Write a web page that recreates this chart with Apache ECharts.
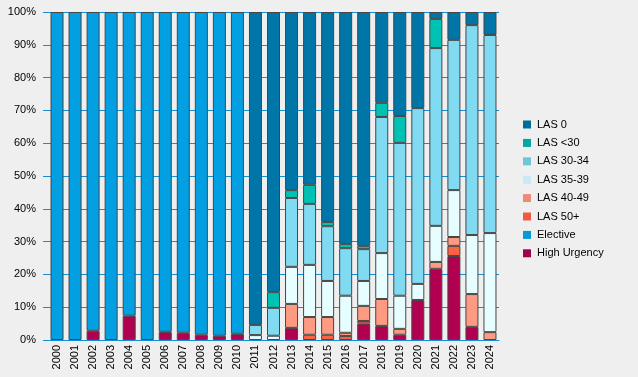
<!DOCTYPE html>
<html>
<head>
<meta charset="utf-8">
<script src="https://cdn.jsdelivr.net/npm/echarts@6/dist/echarts.min.js"></script>
<style>
  html, body { margin: 0; padding: 0; background: #efefef; }
  #mainChart { width: 638px; height: 377px; }
</style>
</head>
<body>
<div id="mainChart"></div>
<script>
// years and shares (%) per category, bottom of stack first
var years = ['2000', '2001', '2002', '2003', '2004', '2005', '2006', '2007', '2008', '2009', '2010', '2011', '2012',
    '2013', '2014', '2015', '2016', '2017', '2018', '2019', '2020', '2021', '2022', '2023', '2024'];
var highUrgency = [0, 0, 2.8, 0, 7.4, 0, 2.5, 2.2, 1.6, 1.3, 1.9, 0, 0, 3.7, 0, 0, 0, 5.0, 4.3, 1.6, 12.2, 21.7, 25.6, 4.0, 0];
var elective = [100, 100, 97.2, 100, 92.6, 100, 97.5, 97.8, 98.4, 98.7, 98.1, 0, 0, 0, 0, 0, 0, 0, 0, 0, 0, 0, 0, 0, 0];
var las50 = [0, 0, 0, 0, 0, 0, 0, 0, 0, 0, 0, 0, 0, 0, 1.6, 1.6, 1.2, 0.8, 0, 0, 0, 0, 3.1, 0, 0];
var las40 = [0, 0, 0, 0, 0, 0, 0, 0, 0, 0, 0, 0, 0, 7.3, 5.4, 5.4, 1.0, 4.6, 8.2, 1.8, 0, 2.1, 2.7, 10.0, 2.4];
var las35 = [0, 0, 0, 0, 0, 0, 0, 0, 0, 0, 0, 1.5, 1.3, 11.3, 15.9, 11.0, 11.3, 7.6, 14.0, 10.1, 4.9, 11.0, 14.3, 18.0, 30.2];
var las30 = [0, 0, 0, 0, 0, 0, 0, 0, 0, 0, 0, 3.1, 8.5, 21.0, 18.6, 16.7, 14.5, 9.7, 41.5, 46.6, 53.6, 54.2, 45.8, 64.0, 60.4];
var lasLt30 = [0, 0, 0, 0, 0, 0, 0, 0, 0, 0, 0, 0, 4.8, 2.4, 5.8, 1.3, 1.3, 1.0, 4.3, 8.2, 0, 8.9, 0, 0, 0];
var las0 = [0, 0, 0, 0, 0, 0, 0, 0, 0, 0, 0, 95.4, 85.4, 54.3, 52.7, 64.0, 70.7, 71.3, 27.7, 31.7, 29.3, 2.1, 8.5, 4.0, 7.0];
var yTicks = [0, 10, 20, 30, 40, 50, 60, 70, 80, 90, 100];

var seriesDef = [
    { name: 'High Urgency', data: highUrgency, color: '#b0004f', legend: '#a0004e' },
    { name: 'Elective', data: elective, color: '#02a0e2', legend: '#0898d8' },
    { name: 'LAS 50+', data: las50, color: '#ff6242', legend: '#f05a40' },
    { name: 'LAS 40-49', data: las40, color: '#ff9a82', legend: '#f08a78' },
    { name: 'LAS 35-39', data: las35, color: '#e6feff', legend: '#cce8f8' },
    { name: 'LAS 30-34', data: las30, color: '#7fdaf2', legend: '#70c4d8' },
    { name: 'LAS <30', data: lasLt30, color: '#00c2b4', legend: '#00a8a0' },
    { name: 'LAS 0', data: las0, color: '#0075a8', legend: '#006a9a' }
];

var series = [];
var legendData = [];
for (var i = 0; i < seriesDef.length; i++) {
    var s = seriesDef[i];
    series.push({
        name: s.name,
        type: 'bar',
        stack: 'total',
        barWidth: 13,
        data: s.data.map(function (v) { return v === 0 ? null : v; }),
        itemStyle: { color: s.color, borderColor: '#464646', borderWidth: 1 },
        emphasis: { disabled: true }
    });
}
// legend runs top to bottom in the reverse of the stack order
for (var j = seriesDef.length - 1; j >= 0; j--) {
    legendData.push({ name: seriesDef[j].name, itemStyle: { color: seriesDef[j].legend, borderWidth: 0 } });
}

var myChart = echarts.init(document.getElementById('mainChart'));
var option = {
    backgroundColor: '#efefef',
    animation: false,
    textStyle: { fontFamily: 'Liberation Sans, Arial, sans-serif' },
    grid: { left: 48, right: 139, top: 12, bottom: 37 },
    legend: {
        orient: 'vertical',
        left: 523,
        top: 118,
        padding: 0,
        itemWidth: 8,
        itemHeight: 8,
        itemGap: 5.4,
        icon: 'rect',
        data: legendData,
        textStyle: { fontSize: 11, color: '#000', lineHeight: 13, padding: [0, 0, 0, 1] }
    },
    xAxis: {
        type: 'category',
        data: years,
        axisLine: { lineStyle: { color: '#1190d8', width: 1 } },
        axisTick: { interval: 0, length: 4, lineStyle: { color: '#1190d8' } },
        axisLabel: { interval: 0, rotate: 90, fontSize: 11, color: '#000', margin: 5 }
    },
    yAxis: {
        type: 'value',
        min: yTicks[0],
        max: yTicks[yTicks.length - 1],
        interval: 10,
        axisLine: { show: false },
        axisTick: { show: true, length: 5, lineStyle: { color: '#1190d8' } },
        axisLabel: { formatter: '{value}%', fontSize: 11, color: '#000', margin: 12 },
        splitLine: { lineStyle: { color: '#1190d8', width: 1 } }
    },
    series: series
};
myChart.setOption(option);
</script>
</body>
</html>
